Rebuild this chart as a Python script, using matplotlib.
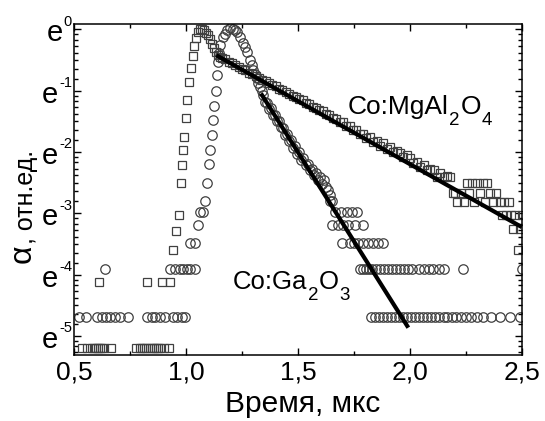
import numpy as np
import matplotlib
matplotlib.use('Agg')
import matplotlib.pyplot as plt
from matplotlib.ticker import FixedLocator, MultipleLocator, NullFormatter, FuncFormatter

plt.rcParams['font.family'] = ['Liberation Sans', 'DejaVu Sans']

# Co:MgAl2O4 (squares): time, mks and ln(alpha)
t_mgal = [0.536, 0.558, 0.580, 0.589, 0.598, 0.607, 0.612, 0.616, 0.625, 0.634, 0.665,
          0.777, 0.795, 0.804, 0.813, 0.822, 0.826, 0.840, 0.849, 0.858, 0.867, 0.876,
          0.885, 0.893, 0.903, 0.924, 0.929,
          0.942, 0.955, 0.969, 0.978, 0.982, 0.987, 0.991, 1.000, 1.004, 1.013, 1.022,
          1.031, 1.036, 1.045, 1.054, 1.062, 1.071, 1.080, 1.089, 1.098, 1.107, 1.116,
          1.125, 1.134, 1.143, 1.152,
          1.160, 1.175, 1.190, 1.205, 1.220, 1.235, 1.250, 1.265, 1.280, 1.295, 1.310,
          1.325, 1.340, 1.355, 1.370, 1.385, 1.400, 1.415, 1.430, 1.445, 1.460, 1.475,
          1.490, 1.505, 1.520, 1.535, 1.550, 1.565, 1.580, 1.595, 1.610, 1.625, 1.640,
          1.655, 1.670, 1.685, 1.700, 1.715, 1.730, 1.745, 1.760, 1.775, 1.790, 1.805,
          1.820, 1.835, 1.850, 1.865, 1.880, 1.895, 1.910, 1.925, 1.940, 1.955, 1.970,
          1.985, 2.000,
          2.015, 2.030, 2.045, 2.060, 2.075, 2.090, 2.105, 2.120, 2.135, 2.150, 2.165,
          2.180, 2.190, 2.200, 2.210, 2.225, 2.240, 2.255, 2.265, 2.275, 2.285, 2.300,
          2.310, 2.325, 2.335, 2.345, 2.355, 2.370, 2.385, 2.400, 2.410, 2.420, 2.430,
          2.440, 2.450, 2.460, 2.470, 2.480, 2.490, 2.500]
ln_mgal = [-5.20, -5.20, -5.20, -5.20, -5.20, -5.20, -4.12, -5.20, -5.20, -5.20, -5.20,
           -5.20, -5.20, -5.20, -5.20, -5.20, -4.12, -5.20, -5.20, -5.20, -5.20, -5.20,
           -5.20, -4.12, -5.20, -5.20, -4.12,
           -3.60, -3.29, -3.03, -2.51, -2.21, -1.97, -1.76, -1.45, -1.16, -0.86, -0.63,
           -0.44, -0.28, -0.15, -0.04, 0.00, 0.00, -0.02, -0.06, -0.10, -0.16, -0.24,
           -0.31, -0.37, -0.42, -0.45,
           -0.47, -0.49, -0.54, -0.55, -0.59, -0.61, -0.64, -0.67, -0.71, -0.73, -0.76,
           -0.80, -0.82, -0.85, -0.88, -0.91, -0.93, -0.97, -0.99, -1.02, -1.05, -1.08,
           -1.10, -1.14, -1.16, -1.20, -1.22, -1.26, -1.28, -1.32, -1.34, -1.38, -1.40,
           -1.45, -1.46, -1.51, -1.52, -1.57, -1.58, -1.64, -1.65, -1.70, -1.70, -1.78,
           -1.76, -1.84, -1.82, -1.90, -1.86, -1.96, -1.92, -2.00, -1.98, -2.02, -2.08,
           -2.05, -2.10,
           -2.18, -2.16, -2.25, -2.21, -2.30, -2.28, -2.30, -2.41, -2.35, -2.41, -2.39,
           -2.41, -2.67, -2.67, -2.82, -2.67, -2.82, -2.51, -2.67, -2.51, -2.82, -2.51,
           -2.67, -2.51, -2.82, -2.51, -2.67, -2.82, -2.67, -2.82, -3.03, -2.82, -3.03,
           -2.82, -3.03, -3.26, -3.03, -3.60, -3.26, -3.03]

# Co:Ga2O3 (circles): time, mks and ln(alpha)
t_ga = [0.522, 0.554, 0.603, 0.625, 0.638, 0.643, 0.661, 0.683, 0.705, 0.741,
        0.826, 0.848, 0.862, 0.884, 0.906, 0.942, 0.960, 0.982, 0.996,
        0.929, 0.951, 0.973, 0.987, 1.004, 1.018, 1.040, 1.018, 1.040,
        1.054, 1.062, 1.076, 1.085, 1.094, 1.103, 1.107, 1.116, 1.121, 1.125, 1.134,
        1.138, 1.143, 1.147, 1.152, 1.165, 1.174, 1.183, 1.196, 1.210, 1.219, 1.228,
        1.241, 1.254, 1.263, 1.272, 1.286, 1.295, 1.299, 1.308, 1.317, 1.321, 1.330,
        1.339,
        1.344, 1.353, 1.362, 1.371, 1.380, 1.389, 1.398, 1.407, 1.416, 1.425, 1.434,
        1.443, 1.452, 1.461, 1.470, 1.479, 1.488, 1.497, 1.506, 1.515, 1.524, 1.533,
        1.542, 1.551, 1.560, 1.569, 1.578, 1.587, 1.596, 1.605, 1.614, 1.623, 1.632,
        1.641, 1.643, 1.652,
        1.665, 1.690, 1.720, 1.741, 1.763,
        1.652, 1.679, 1.701, 1.723, 1.754, 1.790,
        1.696, 1.732, 1.750, 1.768, 1.790, 1.812, 1.835, 1.857, 1.879,
        1.777, 1.790, 1.803, 1.817, 1.830, 1.848, 1.866, 1.884, 1.902, 1.920, 1.938,
        1.956, 1.974, 1.992, 2.010, 2.040, 2.060, 2.085, 2.100, 2.130, 2.150, 2.237,
        2.500,
        1.826, 1.845, 1.862, 1.880, 1.897, 1.915, 1.933, 1.950, 1.968, 1.987, 2.005,
        2.020, 2.040, 2.058, 2.076, 2.094, 2.112, 2.130, 2.150, 2.165, 2.185, 2.205,
        2.225, 2.250, 2.270, 2.300, 2.326, 2.360, 2.402, 2.446, 2.491]
ln_ga = [-4.69, -4.69, -4.69, -4.69, -3.91, -4.69, -4.69, -4.69, -4.69, -4.69,
         -4.69, -4.69, -4.69, -4.69, -4.69, -4.69, -4.69, -4.69, -4.69,
         -3.91, -3.91, -3.91, -3.91, -3.91, -3.91, -3.91, -3.49, -3.49,
         -3.19, -2.98, -2.98, -2.80, -2.51, -2.20, -1.97, -1.73, -1.48, -1.25, -1.01,
         -0.75, -0.54, -0.39, -0.26, -0.13, -0.07, -0.02, 0.02, 0.00, -0.02, -0.05,
         -0.13, -0.23, -0.29, -0.37, -0.50, -0.59, -0.67, -0.73, -0.80, -0.88, -0.94,
         -1.01,
         -1.07, -1.18, -1.20, -1.30, -1.29, -1.40, -1.40, -1.50, -1.50, -1.60, -1.61,
         -1.72, -1.70, -1.82, -1.80, -1.93, -1.90, -2.03, -2.00, -2.13, -2.10, -2.22,
         -2.20, -2.30, -2.28, -2.38, -2.35, -2.45, -2.41, -2.52, -2.46, -2.58, -2.62,
         -2.70, -2.80, -2.80,
         -2.98, -2.98, -2.98, -2.98, -2.98,
         -3.19, -3.19, -3.19, -3.19, -3.19, -3.19,
         -3.49, -3.49, -3.49, -3.49, -3.49, -3.49, -3.49, -3.49, -3.49,
         -3.91, -3.91, -3.91, -3.91, -3.91, -3.91, -3.91, -3.91, -3.91, -3.91, -3.91,
         -3.91, -3.91, -3.91, -3.91, -3.91, -3.91, -3.91, -3.91, -3.91, -3.91, -3.91,
         -3.91,
         -4.69, -4.69, -4.69, -4.69, -4.69, -4.69, -4.69, -4.69, -4.69, -4.69, -4.69,
         -4.69, -4.69, -4.69, -4.69, -4.69, -4.69, -4.69, -4.69, -4.69, -4.69, -4.69,
         -4.69, -4.69, -4.69, -4.69, -4.69, -4.69, -4.69, -4.69, -4.69]

# exponential fits (straight lines in ln scale)
fit_mgal_t = [1.143, 2.491]
fit_mgal_ln = [-0.44, -3.21]
fit_ga_t = [1.339, 1.987]
fit_ga_ln = [-1.075, -4.837]

ytick_pows = [0, -1, -2, -3, -4, -5]


def formula(ax, x, y, parts, size=19, subsize=13.5):
    # parts: list of (text, is_subscript); drawn one after another
    first = ax.text(x, y, parts[0][0], fontsize=size, va='bottom')
    prev = first
    for s, sub in parts[1:]:
        if sub:
            prev = ax.annotate(s, xy=(1, 0), xycoords=(prev, first), xytext=(0.3, -7.5),
                               textcoords='offset points', ha='left', va='bottom',
                               fontsize=subsize)
        else:
            prev = ax.annotate(s, xy=(1, 0), xycoords=(prev, first), xytext=(0.3, 0),
                               textcoords='offset points', ha='left', va='bottom',
                               fontsize=size)


fig = plt.figure(figsize=(5.45, 4.21), dpi=100)
ax = fig.add_axes([0.136, 0.157, 0.822, 0.786])

ax.plot(t_mgal, np.exp(ln_mgal), ls='none', marker='s', ms=5.8, mfc='none',
        mec='#404040', mew=0.9, zorder=2)
ax.plot(t_ga, np.exp(ln_ga), ls='none', marker='o', ms=6.8, mfc='none',
        mec='#404040', mew=0.9, zorder=2)
ax.plot(fit_mgal_t, np.exp(fit_mgal_ln), color='black', lw=3, zorder=3)
ax.plot(fit_ga_t, np.exp(fit_ga_ln), color='black', lw=3, zorder=3)

ax.set_yscale('log', base=np.e)
ax.set_xlim(0.5, 2.5)
ax.set_ylim(np.exp(-5.31), np.exp(0.086))

ax.xaxis.set_major_locator(MultipleLocator(0.5))
ax.xaxis.set_minor_locator(MultipleLocator(0.25))
ax.xaxis.set_major_formatter(FuncFormatter(lambda v, p: f'{v:.1f}'.replace('.', ',')))

ax.yaxis.set_major_locator(FixedLocator([np.exp(p) for p in ytick_pows]))
minors = []
for p in range(0, -7, -1):
    for j in range(1, 8):
        minors.append(np.exp(p) * (1 - j * (1 - np.exp(-1)) / 8))
ax.yaxis.set_minor_locator(FixedLocator(minors))
ax.yaxis.set_major_formatter(NullFormatter())
ax.yaxis.set_minor_formatter(NullFormatter())

ax.tick_params(which='both', direction='in', top=True, right=True, width=1.0)
ax.tick_params(which='major', length=5)
ax.tick_params(which='minor', length=2.8)
ax.tick_params(axis='x', labelsize=19, pad=4)
for s in ax.spines.values():
    s.set_linewidth(1.1)

# y tick labels "e" with exponent
for p in ytick_pows:
    ex = ax.annotate(str(p), xy=(0, np.exp(p)),
                     xycoords=('axes fraction', 'data'), xytext=(-1.5, 5.5),
                     textcoords='offset points', ha='right', va='center',
                     fontsize=10.5, annotation_clip=False)
    ax.annotate('e', xy=(0, 0.5), xycoords=ex, xytext=(-0.7, -8.5),
                textcoords='offset points', ha='right', va='center',
                fontsize=21, annotation_clip=False)

ax.set_xlabel('Время, мкс', fontsize=21.5)
ax.xaxis.set_label_coords(0.51, -0.106)

# y label: large alpha followed by units
alpha_txt = ax.text(-0.081, 0.278, 'α', transform=ax.transAxes, rotation=90,
                    ha='right', va='bottom', fontsize=23)
ax.annotate(', отн.ед.', xy=(-0.081, 1), xycoords=('axes fraction', alpha_txt),
            rotation=90, ha='right', va='bottom', fontsize=18, annotation_clip=False)

formula(ax, 1.723, np.exp(-1.46), [('Co:MgAl', False), ('2', True), ('O', False), ('4', True)])
formula(ax, 1.21, np.exp(-4.31), [('Co:Ga', False), ('2', True), ('O', False), ('3', True)],
        size=18.5)

fig.savefig('out.png', dpi=100)
